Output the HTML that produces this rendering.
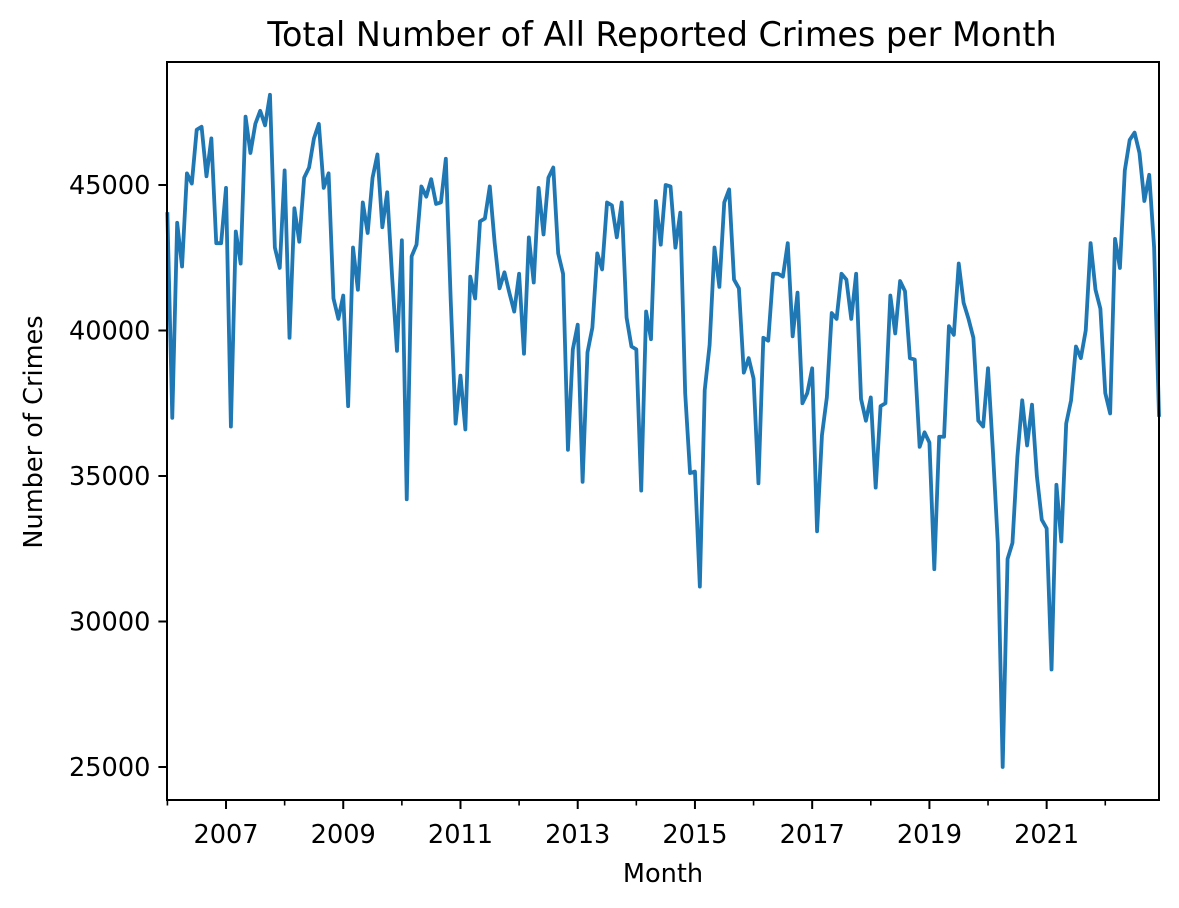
<!DOCTYPE html>
<html><head><meta charset="utf-8"><style>
body{margin:0;background:#fff}
svg{display:block;font-family:"DejaVu Sans","Liberation Sans",sans-serif}
</style></head><body>
<svg id="chart" width="1179" height="908" viewBox="0 0 1179 908">
<rect x="0" y="0" width="1179" height="908" fill="#fff"/>
<text x="662" y="46" text-anchor="middle" font-size="33.4" fill="#000">Total Number of All Reported Crimes per Month</text>
<text x="663" y="882" text-anchor="middle" font-size="25.6" fill="#000">Month</text>
<text x="0" y="0" transform="translate(42,432) rotate(-90)" text-anchor="middle" font-size="25.6" fill="#000">Number of Crimes</text>
<g id="plot"></g>
</svg>
<script>
const startYear = 2006;
const crimes = [
44000,37000,43700,42200,45400,45050,46900,47000,45300,46600,43000,43000,
44900,36700,43400,42300,47350,46100,47100,47550,47050,48100,42850,42150,
45500,39750,44200,43050,45250,45600,46600,47100,44900,45400,41100,40400,
41200,37400,42850,41400,44400,43350,45250,46050,43550,44750,41850,39300,
43100,34200,42550,42950,44950,44600,45200,44350,44400,45900,41050,36800,
38450,36600,41850,41100,43750,43850,44950,43000,41450,42000,41300,40650,
41950,39200,43200,41650,44900,43300,45250,45600,42650,41950,35900,39350,
40200,34800,39250,40100,42650,42100,44400,44300,43200,44400,40450,39450,
39350,34500,40650,39700,44450,42950,45000,44950,42850,44050,37850,35100,
35150,31200,37950,39500,42850,41500,44400,44850,41750,41450,38550,39050,
38350,34750,39750,39650,41950,41950,41850,43000,39800,41300,37500,37850,
38700,33100,36400,37700,40600,40400,41950,41750,40400,41950,37650,36900,
37700,34600,37400,37500,41200,39900,41700,41350,39050,39000,36000,36500,
36150,31800,36350,36350,40150,39850,42300,40950,40400,39750,36900,36700,
38700,35850,32700,25000,32150,32700,35650,37600,36050,37450,35000,33500,
33200,28350,34700,32750,36800,37600,39450,39050,40000,43000,41400,40750,
37850,37150,43150,42150,45500,46550,46800,46100,44450,45350,42850,37100
];
const yTicks = [25000,30000,35000,40000,45000];
const xMajorYears = [2007,2009,2011,2013,2015,2017,2019,2021];
const xMinorYears = [2006,2008,2010,2012,2014,2016,2018,2020,2022];

const L=167.4,R=1159,T=62,B=800;
const nM = crimes.length;
function xm(m){return L+(R-L)*m/(nM-1);}
function yv(v){return 185+(45000-v)*145.5/5000;}
const NS="http://www.w3.org/2000/svg";
const g=document.getElementById('plot');
function mk(tag,attrs){const e=document.createElementNS(NS,tag);for(const k in attrs)e.setAttribute(k,attrs[k]);g.appendChild(e);return e;}

let d='';
crimes.forEach((v,i)=>{d+=(i?'L':'M')+xm(i).toFixed(2)+','+yv(v).toFixed(2);});
const line=mk('path',{d:d,fill:'none',stroke:'#1f77b4','stroke-width':3.8,'stroke-linejoin':'round','stroke-linecap':'square'});



yTicks.forEach(v=>{
  const y=yv(v);
  const t=mk('line',{x1:L-9,x2:L,y1:y,y2:y,stroke:'#000','stroke-width':2});
  
  
  const lb=mk('text',{x:L-17,y:y+9,'text-anchor':'end','font-size':25.6,fill:'#000'});
  lb.textContent=v;
  
  
});
xMajorYears.forEach(yr=>{
  const x=xm((yr-startYear)*12);
  const t=mk('line',{x1:x,x2:x,y1:B,y2:B+9,stroke:'#000','stroke-width':2});
  
  
  const lb=mk('text',{x:x,y:843,'text-anchor':'middle','font-size':25.6,fill:'#000'});
  lb.textContent=yr;
  
  
});
xMinorYears.forEach(yr=>{
  const x=xm((yr-startYear)*12);
  const t=mk('line',{x1:x,x2:x,y1:B,y2:B+5.5,stroke:'#000','stroke-width':1.6});
  
  
});
const frame=mk('rect',{x:167,y:T,width:R-167,height:B-T,fill:'none',stroke:'#000','stroke-width':2});


</script>
</body></html>
